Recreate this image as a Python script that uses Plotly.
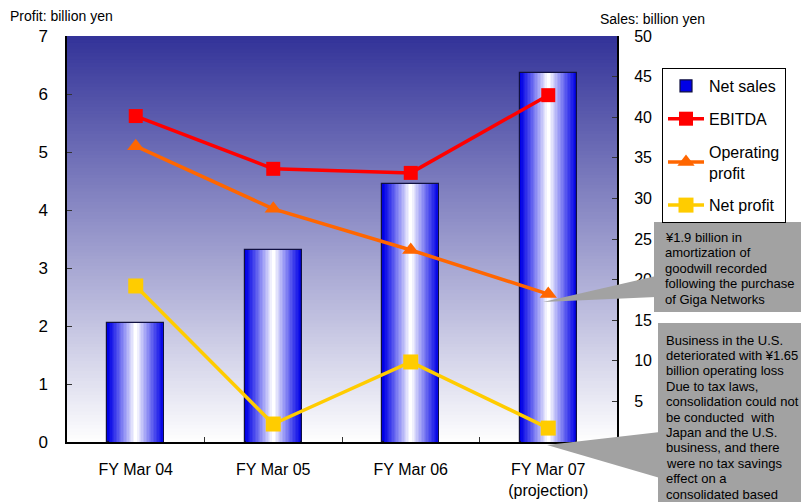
import plotly.graph_objects as go

# ---- data -------------------------------------------------------------
categories = ["FY Mar 04", "FY Mar 05", "FY Mar 06", "FY Mar 07<br>(projection)"]
net_sales = [14.6, 23.6, 31.8, 45.4]          # billion yen (right axis)
ebitda = [5.62, 4.71, 4.64, 5.98]             # billion yen (left axis)
operating_profit = [5.10, 4.02, 3.31, 2.55]
net_profit = [2.69, 0.31, 1.38, 0.24]

profit_ticks = [0, 1, 2, 3, 4, 5, 6, 7]
sales_ticks = [0, 5, 10, 15, 20, 25, 30, 35, 40, 45, 50]
sales_ticklabels = ["", "5", "10", "15", "20", "25", "30", "35", "40", "45", "50"]

note_goodwill = [
    "¥1.9 billion in",
    "amortization of",
    "goodwill recorded",
    "following the purchase",
    "of Giga Networks",
]
note_us = [
    "Business in the U.S.",
    "deteriorated with ¥1.65",
    "billion operating loss",
    "Due to tax laws,",
    "consolidation could not",
    "be conducted  with",
    "Japan and the U.S.",
    "business, and there",
    "were no tax savings",
    "effect on a",
    "consolidated based",
]

# ---- geometry helpers (figure pixels -> paper coordinates) -------------
W, H = 801, 502
L, R, T, B = 67, 617, 36, 442


def px(x):
    return (x - L) / (R - L)


def py(y):
    return (B - y) / (B - T)


FONT = "Liberation Sans, Arial, sans-serif"

fig = go.Figure()

# ---- net sales bars: nested overlay layers give a cylinder-like shading -
BAR_W = 0.415
N_LAYERS = 20
edge = (0, 0, 230)
for k in range(N_LAYERS):
    t = k / (N_LAYERS - 1)
    m = t ** 1.1
    col = tuple(int(edge[i] + (255 - edge[i]) * m) for i in range(3))
    w = BAR_W * (1 - k / N_LAYERS)
    fig.add_trace(go.Bar(
        x=categories, y=net_sales, width=[w] * len(categories),
        marker=dict(color="rgb(%d,%d,%d)" % col,
                    line=dict(color="#101040" if k == 0 else "rgba(0,0,0,0)",
                              width=1.2 if k == 0 else 0)),
        name="Net sales", showlegend=(k == 0), legendgroup="sales",
        yaxis="y", hoverinfo="skip" if k else None,
    ))

# ---- profit lines ------------------------------------------------------
line_specs = [
    ("EBITDA", ebitda, "#ff0000", "square", 14),
    ("Operating<br>profit", operating_profit, "#ff6600", "triangle-up", 15),
    ("Net profit", net_profit, "#ffcc00", "square", 15),
]
for name, vals, col, sym, size in line_specs:
    fig.add_trace(go.Scatter(
        x=categories, y=vals, yaxis="y2", mode="lines+markers", name=name,
        legendgroup=name,
        line=dict(color=col, width=3.5),
        marker=dict(symbol=sym, size=size, color=col),
    ))

# ---- background gradient of the plot area ------------------------------
shapes = []
top_col = (51, 51, 153)
strips = 120
for i in range(strips):
    f0 = i / strips
    f1 = (i + 1) / strips
    m = (i + 0.5) / strips
    c = tuple(int(top_col[j] + (255 - top_col[j]) * m) for j in range(3))
    shapes.append(dict(
        type="rect", xref="paper", yref="paper", layer="below",
        x0=0, x1=1, y0=1 - f1 - 0.002, y1=1 - f0,
        fillcolor="rgb(%d,%d,%d)" % c, line=dict(width=0),
    ))

# ---- callout boxes -----------------------------------------------------
GRAY = "#a2a2a2"
shapes.append(dict(type="rect", xref="paper", yref="paper", layer="above",
                   x0=px(654), x1=px(812), y0=py(312), y1=py(222),
                   fillcolor=GRAY, line=dict(width=0)))
shapes.append(dict(type="path", xref="paper", yref="paper", layer="above",
                   path="M %f,%f L %f,%f L %f,%f Z" % (
                       px(543), py(302), px(656), py(276), px(656), py(297)),
                   fillcolor=GRAY, line=dict(width=0)))
shapes.append(dict(type="rect", xref="paper", yref="paper", layer="above",
                   x0=px(658), x1=px(812), y0=py(520), y1=py(323),
                   fillcolor=GRAY, line=dict(width=0)))
shapes.append(dict(type="path", xref="paper", yref="paper", layer="above",
                   path="M %f,%f L %f,%f L %f,%f Z" % (
                       px(547), py(445), px(660), py(432), px(660), py(478)),
                   fillcolor=GRAY, line=dict(width=0)))

annotations = []
for i, txt in enumerate(note_goodwill):
    annotations.append(dict(
        text=txt, xref="paper", yref="paper", x=px(663), y=py(237 + i * 15.5),
        xanchor="left", yanchor="middle", showarrow=False,
        font=dict(family=FONT, size=13, color="black")))
for i, txt in enumerate(note_us):
    annotations.append(dict(
        text=txt, xref="paper", yref="paper", x=px(664), y=py(340 + i * 15.4),
        xanchor="left", yanchor="middle", showarrow=False,
        font=dict(family=FONT, size=13, color="black")))

# axis unit labels
annotations.append(dict(text="Profit: billion yen", xref="paper", yref="paper",
                        x=px(8), y=py(16), xanchor="left", yanchor="middle",
                        showarrow=False, font=dict(family=FONT, size=14, color="black")))
annotations.append(dict(text="Sales: billion yen", xref="paper", yref="paper",
                        x=px(598), y=py(19), xanchor="left", yanchor="middle",
                        showarrow=False, font=dict(family=FONT, size=14, color="black")))

fig.update_layout(
    width=W, height=H,
    margin=dict(l=L, r=W - R, t=T, b=H - B, autoexpand=False),
    paper_bgcolor="white", plot_bgcolor="white",
    barmode="overlay", bargap=0,
    font=dict(family=FONT, size=16, color="black"),
    shapes=shapes, annotations=annotations,
    xaxis=dict(
        type="category", range=[-0.5, 3.5], showgrid=False, automargin=False,
        showline=True, linecolor="black", linewidth=2,
        ticks="inside", tickson="boundaries", ticklen=5, tickcolor="#333",
        tickfont=dict(size=16), ticklabelstandoff=12,
    ),
    yaxis=dict(
        side="right", range=[0, 50], tickvals=sales_ticks, ticktext=sales_ticklabels,
        showgrid=False, zeroline=False, showline=True, linecolor="black", linewidth=2,
        ticks="inside", ticklen=5, tickcolor="#333", tickfont=dict(size=16),
        ticklabelstandoff=12, automargin=False,
    ),
    yaxis2=dict(
        side="left", overlaying="y", range=[0, 7], tickvals=profit_ticks,
        showgrid=False, zeroline=False, showline=True, linecolor="black", linewidth=1.5,
        ticks="inside", ticklen=5, tickcolor="#333", tickfont=dict(size=17),
        ticklabelstandoff=14, automargin=False,
    ),
    legend=dict(
        x=px(662), y=py(68), xanchor="left", yanchor="top",
        bgcolor="white", bordercolor="black", borderwidth=1,
        font=dict(family=FONT, size=16, color="black"),
        tracegroupgap=9, itemwidth=36, traceorder="grouped",
    ),
)

fig.write_html("out.html")
